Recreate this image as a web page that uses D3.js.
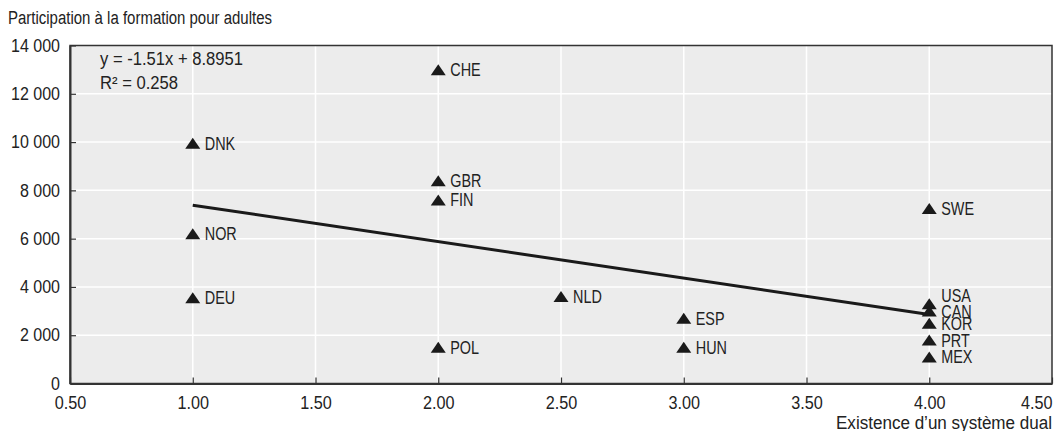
<!DOCTYPE html>
<html><head><meta charset="utf-8">
<script src="https://cdn.jsdelivr.net/npm/d3@7"></script>
<style>
html,body{margin:0;padding:0;background:#fff;}
svg text{font-family:"Liberation Sans",Arial,sans-serif;fill:#222;}
</style></head>
<body><svg id="chart" width="1057" height="431"></svg>
<script>
const countries = ["CHE","DNK","GBR","FIN","NOR","DEU","SWE","NLD","ESP","HUN","POL","USA","CAN","KOR","PRT","MEX"];
const dualSystem = [2, 1, 2, 2, 1, 1, 4, 2.5, 3, 3, 2, 4, 4, 4, 4, 4];
const participation = [13000, 9950, 8400, 7600, 6200, 3550, 7250, 3600, 2700, 1500, 1500, 3300, 3000, 2500, 1800, 1100];
const xTicks = [0.5, 1, 1.5, 2, 2.5, 3, 3.5, 4, 4.5];
const yTicks = [0, 2000, 4000, 6000, 8000, 10000, 12000, 14000];
const trendSlope = -1.51, trendIntercept = 8.8951; // in thousands
const trendRange = [1, 4];
const yTitle = "Participation à la formation pour adultes";
const xTitle = "Existence d’un système dual";
const eqLines = ["y = -1.51x + 8.8951", "R² = 0.258"];

const svg = d3.select("#chart");
const W = 1057, H = 431;
const m = {left: 70, right: 5, top: 45.5, bottom: 47.5};
const x = d3.scaleLinear().domain([0.5, 4.5]).range([m.left, W - m.right]);
const y = d3.scaleLinear().domain([0, 14000]).range([H - m.bottom, m.top]);

function condense(sel, f) {
  sel.each(function() {
    const w = this.getComputedTextLength();
    d3.select(this).attr("textLength", w * f).attr("lengthAdjust", "spacingAndGlyphs");
  });
}
function fitTo(sel, w) {
  sel.attr("textLength", w).attr("lengthAdjust", "spacingAndGlyphs");
}

svg.append("rect").attr("x", m.left).attr("y", m.top)
  .attr("width", W - m.left - m.right).attr("height", H - m.top - m.bottom)
  .attr("fill", "#ececec");

// gridlines
svg.append("g").selectAll("line").data(yTicks.slice(1, -1)).join("line")
  .attr("x1", m.left).attr("x2", W - m.right)
  .attr("y1", d => y(d)).attr("y2", d => y(d))
  .attr("stroke", "#fff").attr("stroke-width", 1.5);
svg.append("g").selectAll("line").data(xTicks.slice(1, -1)).join("line")
  .attr("y1", m.top).attr("y2", H - m.bottom)
  .attr("x1", d => x(d)).attr("x2", d => x(d))
  .attr("stroke", "#fff").attr("stroke-width", 1.5);

// frame
svg.append("rect").attr("x", m.left).attr("y", m.top)
  .attr("width", W - m.left - m.right).attr("height", H - m.top - m.bottom)
  .attr("fill", "none").attr("stroke", "#333").attr("stroke-width", 1.5);

// axes
const yAxis = d3.axisLeft(y).tickValues(yTicks).tickSizeInner(-6).tickSizeOuter(0)
  .tickPadding(10).tickFormat(d => d3.format(",")(d).replace(/,/g, " "));
const gy = svg.append("g").attr("transform", `translate(${m.left},0)`).call(yAxis)
  .attr("font-family", null).attr("font-size", null);
gy.select(".domain").attr("stroke", "#333").attr("stroke-width", 2);
gy.selectAll(".tick line").attr("stroke", "#333").attr("stroke-width", 1.2);
gy.selectAll(".tick text").attr("font-size", 18).attr("fill", "#222").call(condense, 0.89);

const xAxis = d3.axisBottom(x).tickValues(xTicks).tickSizeInner(-6).tickSizeOuter(0)
  .tickPadding(14).tickFormat(d3.format(".2f"));
const gx = svg.append("g").attr("transform", `translate(0,${H - m.bottom})`).call(xAxis)
  .attr("font-family", null).attr("font-size", null);
gx.select(".domain").attr("stroke", "#333").attr("stroke-width", 2);
gx.selectAll(".tick line").attr("stroke", "#333").attr("stroke-width", 1.2);
gx.selectAll(".tick text").attr("font-size", 18).attr("fill", "#222").attr("dy", "0.62em").call(condense, 0.9);
gx.selectAll(".tick text").filter(d => d === xTicks[xTicks.length - 1]).attr("text-anchor", "end");

// titles
svg.append("text").attr("x", 8).attr("y", 24).attr("font-size", 18).text(yTitle).call(fitTo, 264);
svg.append("text").attr("x", W - 5).attr("y", 429).attr("text-anchor", "end").attr("font-size", 18).text(xTitle).call(fitTo, 216);

// equation
const eqWidths = [143, 78];
svg.append("g").selectAll("text").data(eqLines).join("text")
  .attr("x", 100).attr("y", (d, i) => 65 + i * 23.5).attr("font-size", 18).text(d => d)
  .each(function(d, i) { d3.select(this).call(fitTo, eqWidths[i]); });

// trend line
svg.append("line")
  .attr("x1", x(trendRange[0])).attr("y1", y((trendSlope * trendRange[0] + trendIntercept) * 1000))
  .attr("x2", x(trendRange[1])).attr("y2", y((trendSlope * trendRange[1] + trendIntercept) * 1000))
  .attr("stroke", "#1a1a1a").attr("stroke-width", 3);

// points
const pts = countries.map((c, i) => ({c, x: dualSystem[i], y: participation[i]}));
const labelNudge = {USA: -8};
const flatTriangle = { draw(ctx, size) { ctx.moveTo(0, -5.5); ctx.lineTo(7.5, 5.5); ctx.lineTo(-7.5, 5.5); ctx.closePath(); } };
const tri = d3.symbol().type(flatTriangle);
svg.append("g").selectAll("path").data(pts).join("path")
  .attr("d", tri).attr("transform", d => `translate(${x(d.x)},${y(d.y)})`)
  .attr("fill", "#1a1a1a");
svg.append("g").selectAll("text").data(pts).join("text")
  .attr("x", d => x(d.x) + 12).attr("y", d => y(d.y) + (labelNudge[d.c] || 0))
  .attr("dy", "0.36em").attr("font-size", 18).text(d => d.c).call(condense, 0.8);
</script></body></html>
